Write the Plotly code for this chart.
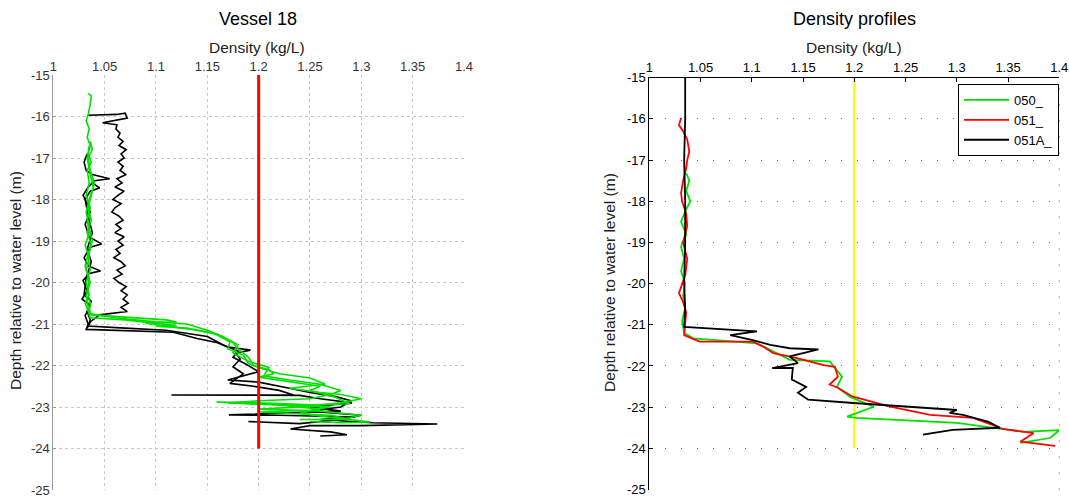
import plotly.graph_objects as go

# ---------------- Vessel 18: density profiles (kg/L) vs depth (m) ----------------
v18_black_1_density = [1.034, 1.062, 1.070, 1.072, 1.048, 1.062, 1.061, 1.065, 1.063, 1.068, 1.064, 1.071,
                       1.066, 1.069, 1.063, 1.068, 1.065, 1.071, 1.062, 1.067, 1.060, 1.069, 1.063, 1.058,
                       1.066, 1.060, 1.057, 1.064, 1.068, 1.061, 1.066, 1.060, 1.069, 1.063, 1.068, 1.061,
                       1.065, 1.059, 1.066, 1.070, 1.062, 1.067, 1.059, 1.064, 1.071, 1.066, 1.072, 1.068,
                       1.073, 1.066, 1.072, 1.058, 1.045, 1.036, 1.033]
v18_black_1_depth = [-15.97, -15.95, -15.92, -16.04, -16.15, -16.20, -16.30, -16.40, -16.50, -16.60, -16.70, -16.80,
                     -16.90, -17.00, -17.10, -17.20, -17.30, -17.40, -17.50, -17.60, -17.70, -17.80, -17.90, -18.00,
                     -18.10, -18.20, -18.30, -18.40, -18.50, -18.60, -18.70, -18.80, -18.90, -19.00, -19.10, -19.20,
                     -19.30, -19.40, -19.50, -19.60, -19.70, -19.80, -19.90, -20.00, -20.10, -20.20, -20.30, -20.40,
                     -20.50, -20.60, -20.70, -20.74, -20.78, -20.95, -21.10]

v18_black_2_density = [1.033, 1.030, 1.032, 1.038, 1.055, 1.040, 1.034, 1.029, 1.033, 1.036, 1.031, 1.035,
                       1.047, 1.036, 1.030, 1.034, 1.046, 1.035, 1.029, 1.033, 1.028, 1.036, 1.031, 1.034,
                       1.032, 1.060, 1.090, 1.117, 1.140, 1.160, 1.169, 1.192, 1.178, 1.182, 1.175, 1.185,
                       1.172, 1.195, 1.220, 1.234, 1.115, 1.240, 1.260, 1.291, 1.270, 1.250, 1.280, 1.171,
                       1.220, 1.294, 1.260, 1.310, 1.374, 1.300, 1.250, 1.231, 1.270, 1.286, 1.260]
v18_black_2_depth = [-16.90, -17.10, -17.30, -17.40, -17.50, -17.55, -17.70, -17.90, -18.10, -18.30, -18.60, -18.90,
                     -19.07, -19.15, -19.40, -19.60, -19.72, -19.78, -19.95, -20.20, -20.40, -20.55, -20.80, -21.00,
                     -21.13, -21.15, -21.18, -21.20, -21.35, -21.45, -21.55, -21.63, -21.70, -21.85, -22.03, -22.20,
                     -22.43, -22.50, -22.60, -22.71, -22.71, -22.72, -22.80, -22.90, -22.95, -23.00, -23.10, -23.19,
                     -23.20, -23.24, -23.30, -23.38, -23.41, -23.45, -23.45, -23.53, -23.60, -23.67, -23.70]

v18_black_3_density = [1.038, 1.045, 1.036, 1.031, 1.034, 1.038, 1.033, 1.037, 1.032, 1.030, 1.037, 1.033,
                       1.036, 1.034, 1.070, 1.110, 1.150, 1.165, 1.180, 1.175, 1.190, 1.200, 1.170, 1.200,
                       1.230, 1.250, 1.275, 1.290, 1.280, 1.250, 1.300, 1.280, 1.240, 1.190]
v18_black_3_depth = [-17.60, -17.72, -17.80, -18.00, -18.40, -18.80, -19.20, -19.50, -19.90, -20.30, -20.45, -20.70,
                     -20.90, -21.05, -21.10, -21.15, -21.30, -21.50, -21.65, -21.80, -22.00, -22.15, -22.35, -22.40,
                     -22.55, -22.65, -22.75, -22.85, -23.00, -23.10, -23.20, -23.30, -23.40, -23.35]

v18_green_1_density = [1.034, 1.037, 1.036, 1.034, 1.032, 1.035, 1.033, 1.036, 1.034, 1.037, 1.033, 1.035,
                       1.032, 1.036, 1.033, 1.035, 1.031, 1.035, 1.032, 1.036, 1.032, 1.034, 1.037, 1.080,
                       1.110, 1.120, 1.090, 1.140, 1.160, 1.175, 1.180, 1.190, 1.195, 1.210, 1.215, 1.200,
                       1.240, 1.260, 1.250, 1.273, 1.289, 1.250, 1.200, 1.159, 1.220, 1.260, 1.240, 1.270,
                       1.309, 1.280, 1.250]
v18_green_1_depth = [-15.44, -15.50, -15.70, -15.95, -16.10, -16.30, -16.50, -16.70, -16.90, -17.10, -17.30, -17.60,
                     -17.90, -18.20, -18.50, -18.80, -19.10, -19.40, -19.70, -20.00, -20.30, -20.60, -20.78, -20.85,
                     -20.90, -20.95, -20.98, -21.15, -21.25, -21.45, -21.60, -21.80, -22.00, -22.10, -22.20, -22.28,
                     -22.42, -22.50, -22.60, -22.75, -22.92, -22.95, -22.90, -22.88, -22.95, -23.05, -23.15, -23.25,
                     -23.36, -23.38, -23.35]

v18_green_2_density = [1.036, 1.038, 1.034, 1.036, 1.040, 1.037, 1.034, 1.037, 1.033, 1.037, 1.034, 1.036,
                       1.032, 1.035, 1.031, 1.034, 1.036, 1.070, 1.120, 1.100, 1.130, 1.156, 1.172, 1.170,
                       1.185, 1.190, 1.200, 1.220, 1.250, 1.265, 1.250, 1.230, 1.260, 1.280, 1.300, 1.280,
                       1.240, 1.200, 1.260, 1.300, 1.280, 1.240]
v18_green_2_depth = [-16.60, -16.80, -17.00, -17.30, -17.60, -17.90, -18.20, -18.50, -18.80, -19.10, -19.40, -19.70,
                     -20.00, -20.30, -20.50, -20.70, -20.85, -20.90, -21.04, -21.05, -21.10, -21.22, -21.43, -21.60,
                     -21.75, -21.95, -22.05, -22.20, -22.30, -22.45, -22.50, -22.55, -22.65, -22.70, -22.80, -22.90,
                     -23.00, -23.05, -23.10, -23.20, -23.30, -23.30]

v18_green_3_density = [1.035, 1.033, 1.036, 1.039, 1.035, 1.032, 1.035, 1.038, 1.034, 1.031, 1.035, 1.033,
                       1.036, 1.035, 1.060, 1.100, 1.130, 1.150, 1.165, 1.180, 1.175, 1.190, 1.210, 1.205,
                       1.230, 1.260, 1.280, 1.270, 1.250, 1.200, 1.170, 1.220, 1.270, 1.250, 1.200, 1.270,
                       1.290]
v18_green_3_depth = [-16.70, -17.00, -17.40, -17.70, -18.00, -18.30, -18.70, -19.00, -19.30, -19.60, -19.90, -20.20,
                     -20.50, -20.75, -20.85, -20.95, -21.00, -21.15, -21.30, -21.50, -21.70, -21.90, -22.05, -22.25,
                     -22.35, -22.45, -22.60, -22.70, -22.80, -22.85, -22.90, -22.95, -23.00, -23.08, -23.12, -23.20,
                     -23.30]

# ---------------- Density profiles 050_, 051_, 051A_ ----------------
p050_density = [1.036, 1.039, 1.036, 1.040, 1.035, 1.031, 1.036, 1.031, 1.034, 1.031, 1.035, 1.033,
                1.035, 1.032, 1.034, 1.043, 1.105, 1.118, 1.137, 1.176, 1.188, 1.183, 1.196, 1.219,
                1.193, 1.202, 1.300, 1.365, 1.400, 1.391, 1.362]
p050_depth = [-17.32, -17.50, -17.75, -18.00, -18.25, -18.50, -18.80, -19.10, -19.40, -19.70, -20.00, -20.30,
              -20.60, -20.90, -21.20, -21.33, -21.45, -21.61, -21.85, -21.89, -22.26, -22.51, -22.75, -22.99,
              -23.23, -23.26, -23.38, -23.60, -23.56, -23.75, -23.87]

p051_density = [1.031, 1.029, 1.033, 1.037, 1.039, 1.037, 1.036, 1.033, 1.031, 1.032, 1.036, 1.037,
                1.033, 1.037, 1.035, 1.029, 1.033, 1.036, 1.034, 1.049, 1.101, 1.111, 1.121, 1.144,
                1.170, 1.181, 1.184, 1.176, 1.184, 1.198, 1.235, 1.274, 1.316, 1.345, 1.375, 1.362,
                1.396]
p051_depth = [-15.98, -16.15, -16.30, -16.50, -16.80, -17.00, -17.20, -17.50, -17.80, -18.00, -18.30, -18.60,
              -19.00, -19.40, -19.80, -20.23, -20.45, -20.70, -21.25, -21.41, -21.41, -21.53, -21.69, -21.81,
              -21.98, -22.02, -22.26, -22.45, -22.53, -22.74, -22.99, -23.19, -23.26, -23.53, -23.63, -23.84,
              -23.94]

p051a_density = [1.035, 1.035, 1.034, 1.035, 1.035, 1.034, 1.035, 1.034, 1.105, 1.079, 1.101, 1.118,
                 1.137, 1.165, 1.137, 1.145, 1.120, 1.140, 1.139, 1.153, 1.145, 1.155, 1.199, 1.300,
                 1.293, 1.306, 1.331, 1.342, 1.296, 1.267]
p051a_depth = [-15.00, -16.00, -17.00, -18.00, -19.00, -20.00, -20.60, -21.05, -21.16, -21.25, -21.37, -21.49,
               -21.57, -21.60, -21.77, -21.93, -22.05, -22.05, -22.33, -22.51, -22.65, -22.82, -22.90, -23.07,
               -23.14, -23.19, -23.36, -23.50, -23.55, -23.67]

# Reference density line (kg/L) and its depth span
threshold_density = 1.2
threshold_depth = [-15, -24]

x_ticks = [1, 1.05, 1.1, 1.15, 1.2, 1.25, 1.3, 1.35, 1.4]
x_tick_labels = ["1", "1.05", "1.1", "1.15", "1.2", "1.25", "1.3", "1.35", "1.4"]
y_ticks = [-15, -16, -17, -18, -19, -20, -21, -22, -23, -24, -25]
y_tick_labels = ["-15", "-16", "-17", "-18", "-19", "-20", "-21", "-22", "-23", "-24", "-25"]

FONT = "Liberation Sans, Arial, sans-serif"
GREEN = "#00e000"
W, H = 1069, 501
fig = go.Figure()

# Left panel
for dens, dep, col in [
    (v18_black_1_density, v18_black_1_depth, "black"),
    (v18_black_2_density, v18_black_2_depth, "black"),
    (v18_black_3_density, v18_black_3_depth, "black"),
    (v18_green_1_density, v18_green_1_depth, GREEN),
    (v18_green_2_density, v18_green_2_depth, GREEN),
    (v18_green_3_density, v18_green_3_depth, GREEN),
]:
    fig.add_trace(go.Scatter(x=dens, y=dep, mode="lines", line=dict(color=col, width=1.6),
                             showlegend=False, xaxis="x", yaxis="y"))
fig.add_trace(go.Scatter(x=[threshold_density] * 2, y=threshold_depth, mode="lines",
                         line=dict(color="#ff0000", width=3), showlegend=False, xaxis="x", yaxis="y"))

# Right panel
fig.add_trace(go.Scatter(x=[threshold_density] * 2, y=threshold_depth, mode="lines",
                         line=dict(color="#ffff00", width=2.5), showlegend=False, xaxis="x2", yaxis="y2"))
fig.add_trace(go.Scatter(x=p050_density, y=p050_depth, mode="lines", name="050_",
                         line=dict(color=GREEN, width=1.8), xaxis="x2", yaxis="y2"))
fig.add_trace(go.Scatter(x=p051_density, y=p051_depth, mode="lines", name="051_",
                         line=dict(color="#ff0000", width=1.8), xaxis="x2", yaxis="y2"))
fig.add_trace(go.Scatter(x=p051a_density, y=p051a_depth, mode="lines", name="051A_",
                         line=dict(color="black", width=1.8), xaxis="x2", yaxis="y2"))

left_x = dict(range=[1, 1.4], side="top", tickvals=x_ticks, ticktext=x_tick_labels,
              showgrid=True, gridcolor="#c8c8c8", griddash="dot", gridwidth=1,
              showline=False, zeroline=False, ticks="", automargin=False,
              tickfont=dict(family=FONT, size=13, color="#333"),
              domain=[53.3 / W, 464 / W], anchor="y")
left_y = dict(range=[-25, -15], tickvals=y_ticks, ticktext=y_tick_labels,
              showgrid=True, gridcolor="#c8c8c8", griddash="dot", gridwidth=1,
              showline=True, linecolor="#999", linewidth=1, zeroline=False,
              ticks="inside", ticklen=3, tickcolor="#999", automargin=False,
              tickfont=dict(family=FONT, size=13, color="#333"),
              domain=[1 - 490 / H, 1 - 75 / H], anchor="x")
right_x = dict(range=[1, 1.4], side="top", tickvals=x_ticks, ticktext=x_tick_labels,
               showgrid=False, showline=True, linecolor="black", linewidth=1, zeroline=False,
               ticks="inside", ticklen=4, tickcolor="black", automargin=False,
               tickfont=dict(family=FONT, size=13, color="black"),
               domain=[649.3 / W, 1059.3 / W], anchor="y2")
right_y = dict(range=[-25, -15], tickvals=y_ticks, ticktext=y_tick_labels,
               showgrid=True, gridcolor="#666", griddash="1px,15px", gridwidth=1,
               showline=True, linecolor="black", linewidth=1, zeroline=False,
               ticks="inside", ticklen=4, tickcolor="black", automargin=False,
               tickfont=dict(family=FONT, size=13, color="black"),
               domain=[1 - 489.5 / H, 1 - 77.7 / H], anchor="x2")

annotations = [
    dict(text="Vessel 18", x=258 / W, y=1 - 19 / H, font=dict(family=FONT, size=18, color="black")),
    dict(text="Density (kg/L)", x=257 / W, y=1 - 47 / H, font=dict(family=FONT, size=15.5, color="#222")),
    dict(text="Depth relative to water level (m)", x=15 / W, y=1 - 281 / H, textangle=-90,
         font=dict(family=FONT, size=15.5, color="#222")),
    dict(text="Density profiles", x=854 / W, y=1 - 19 / H, font=dict(family=FONT, size=18, color="black")),
    dict(text="Density (kg/L)", x=853.5 / W, y=1 - 48 / H, font=dict(family=FONT, size=15.5, color="#222")),
    dict(text="Depth relative to water level (m)", x=609 / W, y=1 - 283 / H, textangle=-90,
         font=dict(family=FONT, size=15.5, color="#222")),
]
for a in annotations:
    a.update(xref="paper", yref="paper", showarrow=False, xanchor="center", yanchor="middle")

fig.update_layout(
    width=W, height=H, margin=dict(l=0, r=0, t=0, b=0, autoexpand=False),
    paper_bgcolor="white", plot_bgcolor="white",
    xaxis=left_x, yaxis=left_y, xaxis2=right_x, yaxis2=right_y,
    annotations=annotations,
    shapes=[dict(type="line", xref="x2 domain", yref="y2 domain", x0=1, x1=1, y0=0, y1=1,
                 line=dict(color="#666", width=1, dash="1px,15px"))],
    legend=dict(x=958 / W, y=1 - 84 / H, xanchor="left", yanchor="top",
                bgcolor="white", bordercolor="black", borderwidth=1, itemwidth=45,
                font=dict(family=FONT, size=13, color="black"), tracegroupgap=0),
)

fig.write_html("out.html")
